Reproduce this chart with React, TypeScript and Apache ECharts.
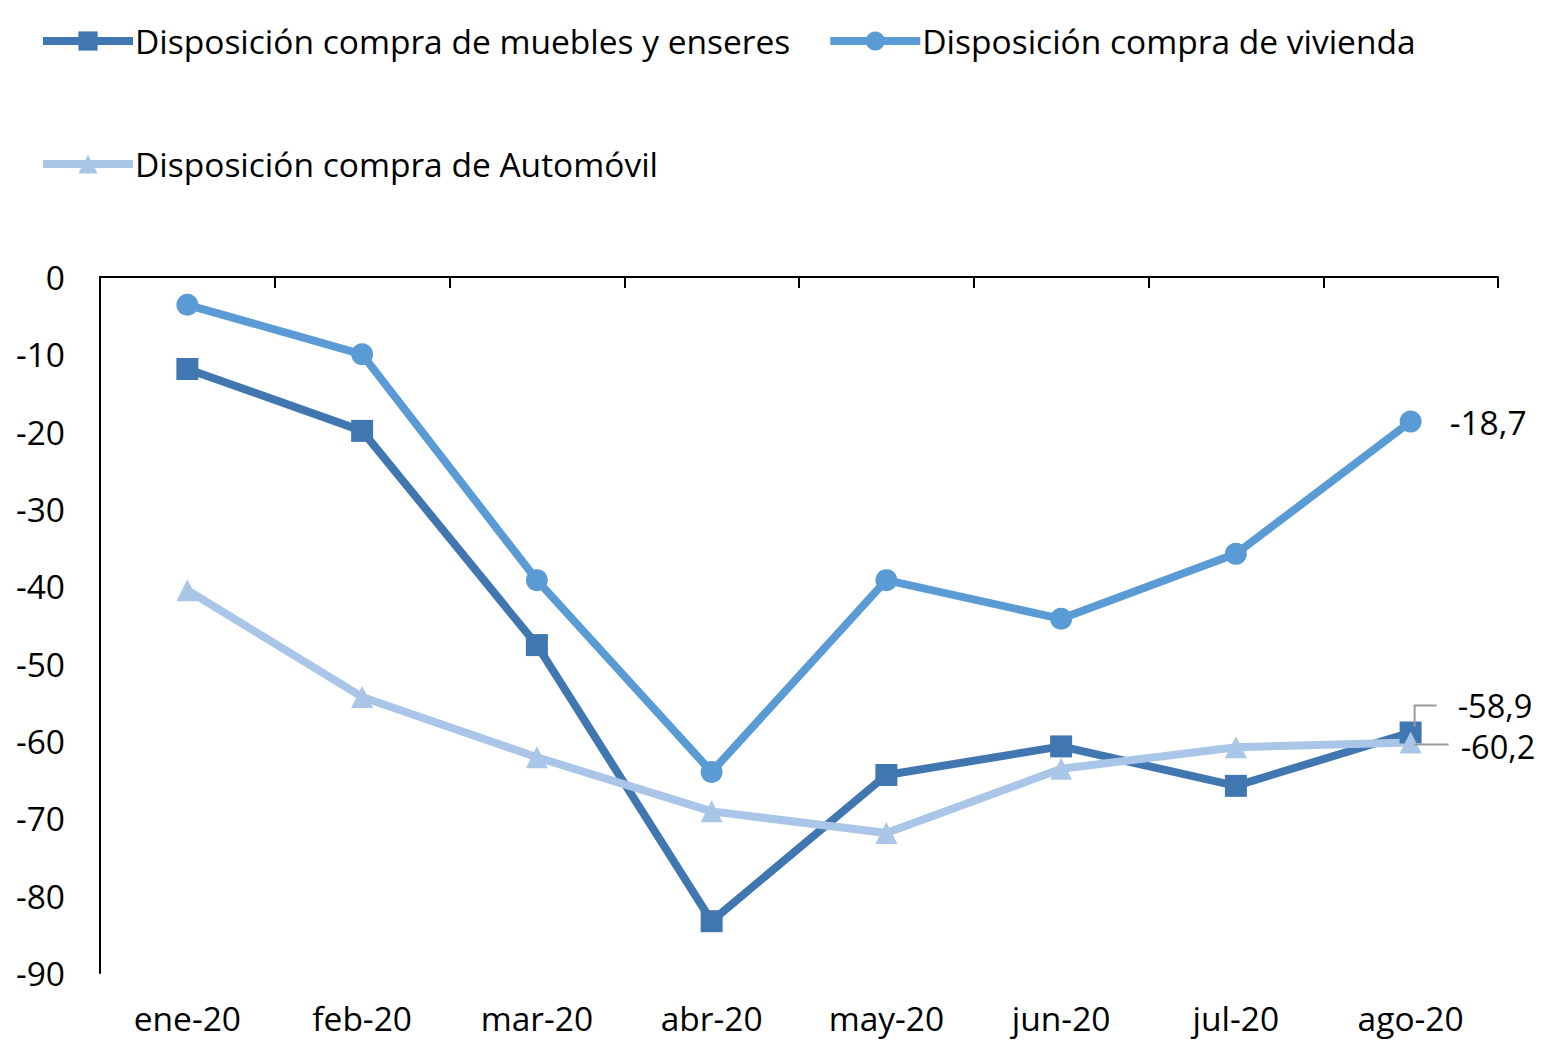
import React, { useEffect, useRef } from "react";
import * as echarts from "echarts";

const categories = ["ene-20", "feb-20", "mar-20", "abr-20", "may-20", "jun-20", "jul-20", "ago-20"];
const mueblesValues = [-11.9, -19.9, -47.6, -83.3, -64.4, -60.7, -65.8, -58.9];
const viviendaValues = [-3.6, -10.0, -39.2, -64.0, -39.2, -44.2, -35.8, -18.7];
const autoValues = [-40.5, -54.3, -62.1, -69.1, -71.9, -63.6, -60.8, -60.2];
const yTicks = { min: -90, max: 0, interval: 10 };

const NAMES = [
  "Disposición compra de muebles y enseres",
  "Disposición compra de vivienda",
  "Disposición compra de Automóvil",
];
const COLORS = ["#4177B0", "#5B9BD5", "#A9C5E8"];
const FONT = "Open Sans";
const FS = 33.5;

const LAST = categories.length - 1;

function withLastLabel(values: number[]) {
  return values.map((v, i) =>
    i === values.length - 1 ? { value: v, label: { show: true } } : v
  );
}

// move label relative to the marker centre
function place(offX: number, offY: number) {
  return (p: any) => {
    if (!p.labelRect || !p.rect) return {};
    const cx = p.rect.x + p.rect.width / 2;
    const cy = p.rect.y + p.rect.height / 2;
    const lr = p.labelRect;
    return { dx: cx + offX - lr.x, dy: cy + offY - (lr.y + lr.height / 2) };
  };
}

// leader line shapes, relative to the data point's pixel
const LEADERS: number[][][] = [
  [[4, -6], [4, -27], [26, -27]],
  [[4, 2], [38, 2]],
];

export default function App() {
  const ref = useRef<HTMLDivElement>(null);
  useEffect(() => {
    if (!ref.current) return;
    const chart = echarts.init(ref.current, undefined, { renderer: "svg" });
    const labelBase = {
      show: false,
      position: "right" as const,
      distance: 32,
      fontFamily: FONT,
      fontSize: 32.5,
      lineHeight: 32,
      color: "#000",
      formatter: (p: any) => String(p.value).replace(".", ","),
    };
    const legendText = { fontFamily: FONT, fontSize: FS, color: "#000", padding: [0, 0, 0, -3] };
    chart.setOption({
      animation: false,
      backgroundColor: "#fff",
      textStyle: { fontFamily: FONT },
      legend: [
        {
          data: [NAMES[0], NAMES[1]],
          left: 34,
          top: 19,
          itemWidth: 90,
          itemHeight: 24,
          itemGap: 36,
          lineStyle: { width: 8 },
          textStyle: legendText,
        },
        {
          data: [NAMES[2]],
          left: 34,
          top: 142,
          itemWidth: 90,
          itemHeight: 24,
          lineStyle: { width: 8 },
          textStyle: legendText,
        },
      ],
      grid: { left: 100, right: 43, top: 277, bottom: 67, containLabel: false },
      xAxis: [
        {
          type: "category",
          data: categories,
          position: "bottom",
          boundaryGap: true,
          axisLine: { show: false },
          axisTick: { show: false },
          axisLabel: { fontFamily: FONT, fontSize: FS, color: "#000", margin: 28, lineHeight: 34 },
        },
        {
          type: "category",
          data: categories,
          position: "top",
          boundaryGap: true,
          axisLine: { show: true, lineStyle: { color: "#000", width: 2 } },
          axisTick: { show: true, inside: true, length: 11, lineStyle: { color: "#000", width: 2 } },
          axisLabel: { show: false },
        },
      ],
      yAxis: {
        type: "value",
        min: yTicks.min,
        max: yTicks.max,
        interval: yTicks.interval,
        axisLine: { show: true, lineStyle: { color: "#000", width: 2 } },
        axisTick: { show: false },
        splitLine: { show: false },
        axisLabel: { fontFamily: FONT, fontSize: FS, color: "#000", margin: 35 },
      },
      series: [
        {
          name: NAMES[0],
          type: "line",
          data: withLastLabel(mueblesValues),
          symbol: "rect",
          symbolSize: 22,
          lineStyle: { width: 8, color: COLORS[0] },
          itemStyle: { color: COLORS[0] },
          label: labelBase,
          labelLayout: place(47, -27),
        },
        {
          name: NAMES[1],
          type: "line",
          data: withLastLabel(viviendaValues),
          symbol: "circle",
          symbolSize: 22,
          lineStyle: { width: 8, color: COLORS[1] },
          itemStyle: { color: COLORS[1] },
          label: { ...labelBase, fontSize: FS, distance: 28 },
        },
        {
          name: NAMES[2],
          type: "line",
          data: withLastLabel(autoValues),
          symbol: "triangle",
          symbolSize: 22,
          lineStyle: { width: 8, color: COLORS[2] },
          itemStyle: { color: COLORS[2] },
          label: labelBase,
          labelLayout: place(50, 4),
        },
        {
          type: "custom",
          silent: true,
          z: 5,
          data: [
            [LAST, mueblesValues[LAST], 0],
            [LAST, autoValues[LAST], 1],
          ],
          renderItem: (_params: any, api: any) => {
            const pt = api.coord([api.value(0), api.value(1)]);
            const shape = LEADERS[api.value(2)];
            return {
              type: "polyline",
              shape: { points: shape.map(([a, b]) => [pt[0] + a, pt[1] + b]) },
              style: { stroke: "#9a9a9a", lineWidth: 2, fill: null },
            };
          },
        },
      ],
    });
    return () => chart.dispose();
  }, []);
  return (
    <div
      ref={ref}
      style={{ position: "fixed", left: 0, top: 0, width: 1541, height: 1040, background: "#fff" }}
    />
  );
}
